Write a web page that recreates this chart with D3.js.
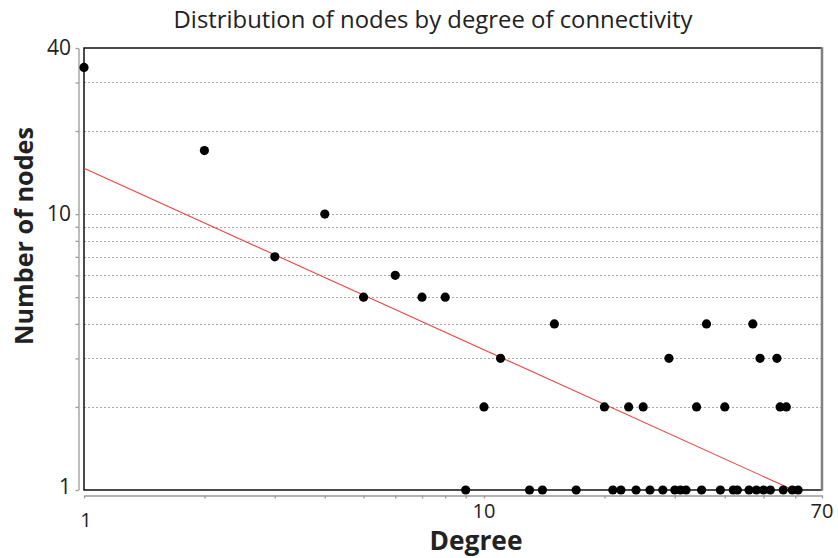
<!DOCTYPE html>
<html>
<head>
<meta charset="utf-8">
<script src="https://cdn.jsdelivr.net/npm/d3@7"></script>
<style>
  html, body { margin: 0; padding: 0; background: #fff; }
  svg { display: block; font-family: "Open Sans", "Noto Sans", sans-serif; }
</style>
</head>
<body>
<svg id="chart" width="838" height="558"></svg>
<script>
// Degree of each node group and how many nodes share that degree
const degree = [1, 2, 3, 4, 5, 6, 7, 8, 9, 10, 11, 13, 14, 15, 17, 20, 21, 22, 23, 24,
                25, 26, 28, 29, 30, 31, 32, 34, 35, 36, 39, 40, 42, 43, 46, 47, 48, 49,
                50, 52, 54, 55, 56, 57, 59, 61];
const nodes  = [34, 17, 7, 10, 5, 6, 5, 5, 1, 2, 3, 1, 1, 4, 1, 2, 1, 1, 2, 1,
                2, 1, 1, 3, 1, 1, 1, 2, 1, 4, 1, 2, 1, 1, 1, 4, 1, 3,
                1, 1, 3, 2, 1, 2, 1, 1];

// Power-law fit line, given by its two end points
const fitDegree = [1, 59.3];
const fitNodes  = [14.66, 1];

// Axis ticks and labels
const xTicks = [1, 2, 3, 4, 5, 6, 7, 8, 9, 10, 20, 30, 40, 50, 60, 70];
const xLabels = [1, 10, 70];
const yTicks = [1, 2, 3, 4, 5, 6, 7, 8, 9, 10, 20, 30, 40];
const yLabels = [1, 10, 40];
const yGrid = [2, 3, 4, 5, 6, 7, 8, 9, 10, 20, 30];

const title = "Distribution of nodes by degree of connectivity";
const xTitle = "Degree";
const yTitle = "Number of nodes";

const svg = d3.select("#chart");
const L = 84, R = 822, T = 48, B = 490;

const x = d3.scaleLog().domain([1, 70]).range([L, R]);
const y = d3.scaleLog().domain([1, 40]).range([B, T]);

// shrink or grow a text's font size so it spans the given width
function fitWidth(sel, w) {
  const cur = sel.node().getComputedTextLength();
  const fs = parseFloat(sel.attr("font-size"));
  sel.attr("font-size", (fs * w / cur).toFixed(2));
}

// dashed horizontal grid
svg.append("g").selectAll("line").data(yGrid).join("line")
  .attr("x1", L).attr("x2", R)
  .attr("y1", d => Math.round(y(d)) + 0.5).attr("y2", d => Math.round(y(d)) + 0.5)
  .attr("stroke", "#a8a8a8").attr("stroke-width", 1)
  .attr("stroke-dasharray", "2,2");

// offset grey axes
const yAxis = d3.axisLeft(y).tickValues(yTicks).tickFormat("").tickSize(3).tickSizeOuter(0);
svg.append("g").attr("transform", "translate(78.5,0)").call(yAxis)
  .call(g => g.selectAll("line, path").attr("stroke", "#9a9a9a").attr("stroke-width", 1.3));

const xAxis = d3.axisBottom(x).tickValues(xTicks).tickFormat("").tickSize(3).tickSizeOuter(0);
svg.append("g").attr("transform", "translate(0,495.5)").call(xAxis)
  .call(g => g.selectAll("line, path").attr("stroke", "#9a9a9a").attr("stroke-width", 1.3));

// plot frame
svg.append("path")
  .attr("d", `M${R},${T}H${L}V${B}H${R}`)
  .attr("fill", "none").attr("stroke", "#111").attr("stroke-width", 1.5);
svg.append("line")
  .attr("x1", R).attr("x2", R).attr("y1", T - 0.75).attr("y2", B + 0.75)
  .attr("stroke", "#808080").attr("stroke-width", 2.5);

// fit line
const fit = fitDegree.map((d, i) => [d, fitNodes[i]]);
svg.append("path")
  .datum(fit)
  .attr("d", d3.line().x(d => x(d[0])).y(d => y(d[1])))
  .attr("fill", "none").attr("stroke", "#ee4444").attr("stroke-width", 1.1);

// points
svg.append("g").selectAll("circle").data(degree).join("circle")
  .attr("cx", d => x(d))
  .attr("cy", (d, i) => y(nodes[i]))
  .attr("r", 4.6)
  .attr("fill", "#000");

// tick labels
svg.append("g").selectAll("text").data(xLabels).join("text")
  .attr("x", d => x(d) + (d === 1 ? 2 : 0))
  .attr("y", d => d === 1 ? 527 : 518)
  .attr("text-anchor", "middle")
  .attr("font-size", 20).attr("fill", "#222")
  .text(d => d);

svg.append("g").selectAll("text").data(yLabels).join("text")
  .attr("x", 71)
  .attr("y", d => y(d) + (d === 1 ? 4 : 7))
  .attr("text-anchor", "end")
  .attr("font-size", 21).attr("fill", "#222")
  .text(d => d);

// titles
const t = svg.append("text")
  .attr("x", 433).attr("y", 28)
  .attr("text-anchor", "middle")
  .attr("font-size", 20).attr("fill", "#222")
  .text(title);
fitWidth(t, 519);

const xt = svg.append("text")
  .attr("x", 476).attr("y", 550)
  .attr("text-anchor", "middle")
  .attr("font-size", 22).attr("font-weight", 700).attr("fill", "#222")
  .text(xTitle);
fitWidth(xt, 93);

const yt = svg.append("text")
  .attr("transform", "translate(33,236) rotate(-90)")
  .attr("text-anchor", "middle")
  .attr("font-size", 22).attr("font-weight", 700).attr("fill", "#222")
  .text(yTitle);
fitWidth(yt, 218);
</script>
</body>
</html>
